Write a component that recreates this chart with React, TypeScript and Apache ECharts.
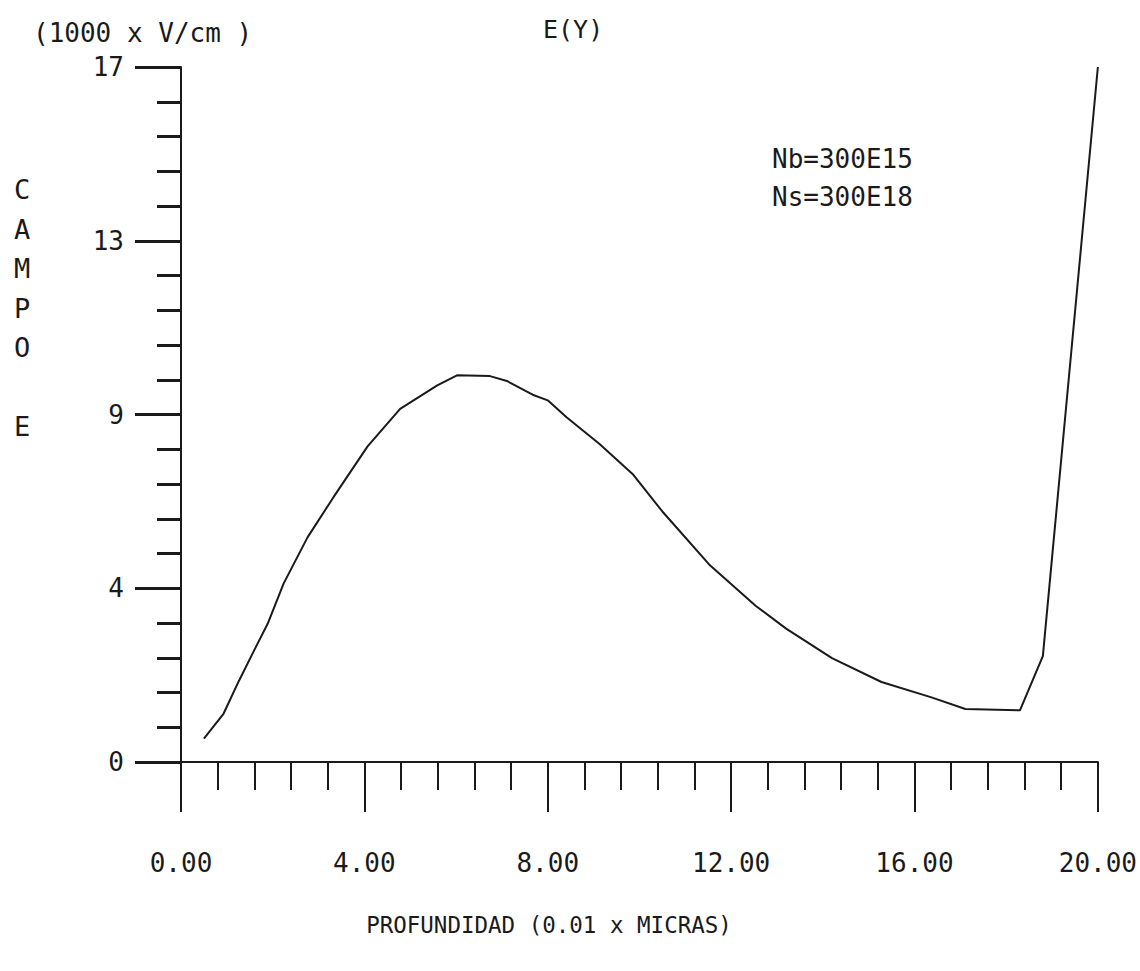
import React, { useEffect, useRef } from "react";
import * as echarts from "echarts";

// Depth (0.01 x micras) and field E(Y) (1000 x V/cm)
const depth = [0.5, 0.93, 1.26, 1.59, 1.89, 2.24, 2.76, 3.33, 4.07, 4.78, 5.59, 6.02, 6.74, 7.11, 7.67, 8.0, 8.41, 9.13, 9.85, 10.5, 11.52, 12.54, 13.2, 14.2, 15.28, 16.37, 17.11, 18.3, 18.8, 20.0];
const field = [0.58, 1.2, 2.0, 2.75, 3.42, 4.42, 5.56, 6.56, 7.81, 8.74, 9.32, 9.57, 9.55, 9.43, 9.09, 8.95, 8.53, 7.87, 7.13, 6.2, 4.89, 3.86, 3.3, 2.57, 1.98, 1.6, 1.31, 1.28, 2.62, 17.2];

const xTicks = { min: 0, max: 20, interval: 4 };
const yTicks = { min: 0, max: 17.2, interval: 4.3 };

const titleText = "E(Y)";
const yUnitText = "(1000 x V/cm )";
const yNameText = "C\nA\nM\nP\nO\n\nE";
const xNameText = "PROFUNDIDAD (0.01 x MICRAS)";
const noteText = "Nb=300E15\nNs=300E18";

const FONT = "'DejaVu Sans Mono', 'Liberation Mono', monospace";
const INK = "#1a1a1a";

export default function App() {
  const ref = useRef<HTMLDivElement>(null);
  useEffect(() => {
    if (!ref.current) return;
    const chart = echarts.init(ref.current, null, { renderer: "svg" });
    const data = depth.map((d, i) => [d, field[i]]);
    chart.setOption({
      animation: false,
      backgroundColor: "#ffffff",
      title: {
        text: titleText,
        left: 543,
        top: 17,
        padding: 0,
        textStyle: { fontFamily: FONT, fontSize: 25, fontWeight: "normal", color: INK },
      },
      grid: { left: 181, right: 40, top: 67, bottom: 209 },
      xAxis: {
        type: "value",
        min: xTicks.min,
        max: xTicks.max,
        interval: xTicks.interval,
        axisLine: { show: true, lineStyle: { color: INK, width: 2 } },
        axisTick: { show: true, length: 50, lineStyle: { color: INK, width: 2 } },
        minorTick: { show: true, splitNumber: 5, length: 28, lineStyle: { color: INK, width: 2 } },
        splitLine: { show: false },
        axisLabel: {
          margin: 88,
          fontFamily: FONT,
          fontSize: 26,
          color: INK,
          formatter: (v: number) => v.toFixed(2),
        },
      },
      yAxis: {
        type: "value",
        min: yTicks.min,
        max: yTicks.max,
        interval: yTicks.interval,
        axisLine: { show: true, lineStyle: { color: INK, width: 2 } },
        axisTick: { show: true, length: 46, lineStyle: { color: INK, width: 3 } },
        minorTick: { show: true, splitNumber: 5, length: 24, lineStyle: { color: INK, width: 3 } },
        splitLine: { show: false },
        axisLabel: {
          margin: 57,
          fontFamily: FONT,
          fontSize: 26,
          color: INK,
          formatter: (v: number) => String(Math.round(v)),
        },
      },
      graphic: [
        {
          type: "text",
          x: 33,
          y: 33,
          style: { text: yUnitText, fill: INK, font: `26px ${FONT}`, align: "left", verticalAlign: "middle" },
        },
        {
          type: "text",
          x: 22,
          y: 170,
          style: { text: yNameText, fill: INK, font: `27px ${FONT}`, align: "center", verticalAlign: "top", lineHeight: 39.5 },
        },
        {
          type: "text",
          x: 772,
          y: 140,
          style: { text: noteText, fill: INK, font: `26px ${FONT}`, align: "left", verticalAlign: "top", lineHeight: 38 },
        },
        {
          type: "text",
          x: 549,
          y: 925,
          style: { text: xNameText, fill: INK, font: `22.5px ${FONT}`, align: "center", verticalAlign: "middle" },
        },
      ],
      series: [
        {
          type: "line",
          data,
          showSymbol: false,
          smooth: false,
          lineStyle: { color: INK, width: 2 },
        },
      ],
    });
    return () => chart.dispose();
  }, []);
  return <div ref={ref} style={{ position: "absolute", left: 0, top: 0, width: 1140, height: 971 }} />;
}
